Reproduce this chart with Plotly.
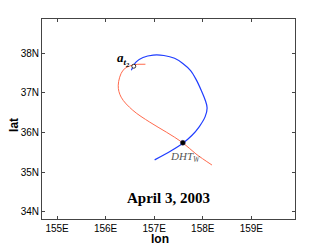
import plotly.graph_objects as go

blue_lon = [156.53, 156.63, 156.77, 156.98, 157.20, 157.42, 157.59, 157.75, 157.87, 157.97, 158.05, 158.09, 158.05, 157.93, 157.78, 157.59, 157.35, 157.01]
blue_lat = [37.57, 37.78, 37.89, 37.95, 37.94, 37.87, 37.74, 37.56, 37.32, 37.06, 36.82, 36.62, 36.40, 36.15, 35.93, 35.73, 35.54, 35.31]

red_lon = [156.82, 156.56, 156.36, 156.26, 156.32, 156.56, 156.91, 157.25, 157.59, 157.86, 158.19]
red_lat = [37.72, 37.70, 37.57, 37.19, 36.89, 36.56, 36.26, 36.01, 35.74, 35.46, 35.18]

dht_lon = [157.59]
dht_lat = [35.74]
at2_lon = [156.58]
at2_lat = [37.67]

x_ticks = [155, 156, 157, 158, 159]
x_labels = ["155E", "156E", "157E", "158E", "159E"]
y_ticks = [34, 35, 36, 37, 38]
y_labels = ["34N", "35N", "36N", "37N", "38N"]

fig = go.Figure()
fig.add_trace(go.Scatter(x=red_lon, y=red_lat, mode="lines", line=dict(color="#ff6a4d", width=1, shape="spline", smoothing=1), showlegend=False))
fig.add_trace(go.Scatter(x=blue_lon, y=blue_lat, mode="lines", line=dict(color="#1f3dff", width=1.2, shape="spline", smoothing=1), showlegend=False))
fig.add_trace(go.Scatter(x=dht_lon, y=dht_lat, mode="markers", marker=dict(color="black", size=5, line=dict(color="#333366", width=0.5)), showlegend=False))
fig.add_trace(go.Scatter(x=at2_lon, y=at2_lat, mode="markers", marker=dict(color="white", size=4, line=dict(color="black", width=0.8)), showlegend=False))

fig.add_annotation(x=156.36, y=37.86, text="<b><i>a<sub>t<sub>2</sub></sub></i></b>", showarrow=False,
                   font=dict(family="Liberation Serif", size=13, color="black"))
fig.add_annotation(x=157.64, y=35.39, text="<i>DHT<sub>W</sub></i>", showarrow=False,
                   font=dict(family="Liberation Serif", size=11, color="#555555"))
fig.add_annotation(x=157.3, y=34.36, text="<b>April 3, 2003</b>", showarrow=False,
                   font=dict(family="Liberation Serif", size=15, color="black"))
fig.add_annotation(xref="paper", yref="paper", x=-0.111, y=0.47, xanchor="center", yanchor="middle",
                   text="<b>lat</b>", textangle=-90,
                   showarrow=False, font=dict(family="Liberation Sans", size=12, color="black"))
fig.add_annotation(xref="paper", yref="paper", x=0.466, y=-0.1, xanchor="center", yanchor="middle",
                   text="<b>lon</b>",
                   showarrow=False, font=dict(family="Liberation Sans", size=12, color="black"))

axis_common = dict(showgrid=False, zeroline=False, showline=True, linecolor="#444444", linewidth=1,
                   mirror="ticks", ticks="inside", ticklen=3, tickcolor="#444444",
                   tickfont=dict(family="Liberation Sans", size=10, color="black"))
fig.update_xaxes(range=[154.69, 159.9], tickvals=x_ticks, ticktext=x_labels, **axis_common)
fig.update_yaxes(range=[33.82, 38.86], tickvals=y_ticks, ticktext=y_labels, **axis_common)

fig.update_layout(width=319, height=238, margin=dict(l=34, r=32, t=11, b=27),
                  paper_bgcolor="white", plot_bgcolor="white")
fig.write_html("out.html")
